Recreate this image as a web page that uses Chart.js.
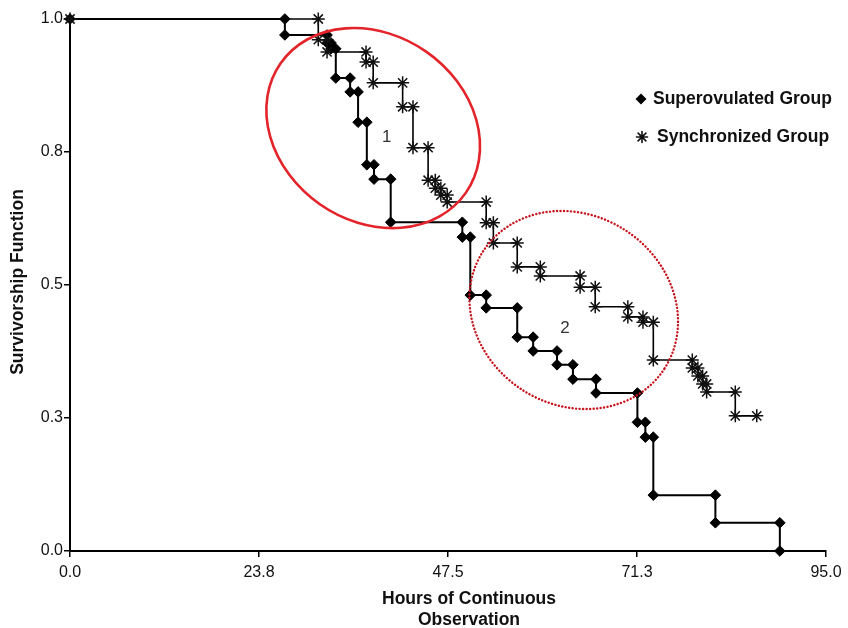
<!DOCTYPE html>
<html>
<head>
<meta charset="utf-8">
<title>Survivorship Function</title>
<script src="https://cdn.jsdelivr.net/npm/chart.js@4.4.1/dist/chart.umd.min.js"></script>
<style>
    html, body { margin: 0; padding: 0; background: #fff; }
    #wrap { width: 848px; height: 628px; position: relative; }
</style>
</head>
<body>
<div id="wrap"><canvas id="survChart" width="848" height="628"></canvas></div>
<script>
// Hours at which each group steps down, and the survival level after the step
const superTimes = [27.0, 32.3, 32.8, 33.4, 35.2, 36.2, 37.3, 38.2, 40.3, 49.3, 50.3,
    52.3, 56.2, 58.2, 61.2, 63.2, 66.1, 71.3, 72.3, 73.3, 81.1, 89.2];
const superSurv = [0.970, 0.955, 0.944, 0.889, 0.863, 0.806, 0.726, 0.699, 0.618, 0.590, 0.481,
    0.457, 0.402, 0.376, 0.350, 0.323, 0.297, 0.242, 0.214, 0.105, 0.053, 0.0];

const syncTimes = [31.2, 32.3, 37.2, 38.1, 41.8, 43.1, 45.0, 45.9, 46.6, 47.4, 52.3, 53.2,
    56.2, 59.1, 64.1, 66.0, 70.1, 72.0, 73.3, 78.2, 78.9, 79.5, 80.0, 83.6];
const syncSurv = [0.961, 0.938, 0.919, 0.880, 0.835, 0.758, 0.697, 0.682, 0.669, 0.656, 0.617, 0.579,
    0.534, 0.517, 0.496, 0.459, 0.440, 0.430, 0.359, 0.344, 0.329, 0.314, 0.299, 0.254];
const syncLastTime = 86.3; // last censored observation

const seriesNames = ["Superovulated Group", "Synchronized Group"];

// Axis ticks
const xTicks = [0, 23.75, 47.5, 71.25, 95];
const xTickLabels = ["0.0", "23.8", "47.5", "71.3", "95.0"];
const yTicks = [0, 0.25, 0.5, 0.75, 1];
const yTickLabels = ["0.0", "0.3", "0.5", "0.8", "1.0"];

const xTitle = ["Hours of Continuous", "Observation"];
const yTitle = "Survivorship Function";

// Highlighted regions (centre in data units) and their labels
const ringLabels = ["1", "2"];
const ringCenterX = [38.1, 63.3];
const ringCenterY = [0.795, 0.453];
const ringLabelX = [39.8, 62.2];
const ringLabelY = [0.778, 0.419];

const FONT = "'Liberation Sans', Arial, Helvetica, sans-serif";

// Turn step times/levels into the corner points of a Kaplan-Meier curve
function stepPoints(times, surv, lastTime) {
    const pts = [{ x: 0, y: 1 }];
    let prev = 1;
    times.forEach((t, i) => {
        pts.push({ x: t, y: prev });
        pts.push({ x: t, y: surv[i] });
        prev = surv[i];
    });
    if (lastTime !== undefined) pts.push({ x: lastTime, y: prev });
    return pts;
}

function drawDiamond(ctx, x, y, r) {
    ctx.beginPath();
    ctx.moveTo(x - r, y);
    ctx.lineTo(x, y - r);
    ctx.lineTo(x + r, y);
    ctx.lineTo(x, y + r);
    ctx.closePath();
    ctx.fill();
}

function drawStar(ctx, x, y, r) {
    ctx.beginPath();
    for (let k = 0; k < 4; k++) {
        const a = k * Math.PI / 4;
        ctx.moveTo(x - r * Math.cos(a), y - r * Math.sin(a));
        ctx.lineTo(x + r * Math.cos(a), y + r * Math.sin(a));
    }
    ctx.stroke();
}

// Rings, ring numbers, legend and axis titles
const overlayPlugin = {
    id: "overlay",
    afterDatasetsDraw(chart) {
        const { ctx } = chart;
        const x = chart.scales.x, y = chart.scales.y;
        ctx.save();

        const ringStyle = [
            { rx: 113, ry: 93, rot: 35, color: "#e3242b", width: 2.6, dash: [] },
            { rx: 108, ry: 95, rot: 33, color: "#c8141e", width: 2.4, dash: [0.1, 3.4] },
        ];
        ringLabels.forEach((lab, i) => {
            const s = ringStyle[i];
            ctx.beginPath();
            ctx.strokeStyle = s.color;
            ctx.lineWidth = s.width;
            ctx.lineCap = "round";
            ctx.setLineDash(s.dash);
            ctx.ellipse(x.getPixelForValue(ringCenterX[i]), y.getPixelForValue(ringCenterY[i]),
                s.rx, s.ry, s.rot * Math.PI / 180, 0, Math.PI * 2);
            ctx.stroke();
            ctx.setLineDash([]);

            ctx.fillStyle = "#333";
            ctx.font = "17px " + FONT;
            ctx.textAlign = "center";
            ctx.textBaseline = "middle";
            ctx.fillText(lab, x.getPixelForValue(ringLabelX[i]), y.getPixelForValue(ringLabelY[i]));
        });

        // Legend
        ctx.fillStyle = "#000";
        ctx.strokeStyle = "#111";
        ctx.lineWidth = 1.6;
        drawDiamond(ctx, 641, 99, 5.5);
        drawStar(ctx, 642, 137, 5.5);
        ctx.font = "bold 17.5px " + FONT;
        ctx.textAlign = "left";
        ctx.textBaseline = "middle";
        ctx.fillStyle = "#111";
        ctx.fillText(seriesNames[0], 653, 99);
        ctx.fillText(seriesNames[1], 657, 137);

        // Axis titles
        ctx.textAlign = "center";
        ctx.fillText(xTitle[0], 469, 599);
        ctx.fillText(xTitle[1], 469, 620);
        ctx.save();
        ctx.translate(18, 282);
        ctx.rotate(-Math.PI / 2);
        ctx.fillText(yTitle, 0, 0);
        ctx.restore();

        ctx.restore();
    }
};

document.addEventListener("DOMContentLoaded", function () {
    const ctx = document.getElementById("survChart").getContext("2d");

    new Chart(ctx, {
        type: "scatter",
        data: {
            datasets: [
                {
                    label: seriesNames[1],
                    data: stepPoints(syncTimes, syncSurv, syncLastTime),
                    showLine: true,
                    clip: false,
                    borderColor: "#000",
                    borderWidth: 1.6,
                    pointStyle: "star",
                    pointRadius: 6.5,
                    pointBorderWidth: 1.5,
                    pointBorderColor: "#111",
                    pointBackgroundColor: "#111",
                    order: 1,
                },
                {
                    label: seriesNames[0],
                    data: stepPoints(superTimes, superSurv),
                    showLine: true,
                    clip: false,
                    borderColor: "#000",
                    borderWidth: 2,
                    pointStyle: "rectRot",
                    pointRadius: 5.3,
                    pointBorderWidth: 1,
                    pointBorderColor: "#000",
                    pointBackgroundColor: "#000",
                    order: 2,
                },
            ]
        },
        options: {
            responsive: false,
            animation: false,
            events: [],
            layout: { padding: { left: 0, top: 19, right: 22, bottom: 0 } },
            plugins: {
                legend: { display: false },
                tooltip: { enabled: false },
            },
            scales: {
                x: {
                    type: "linear",
                    min: 0,
                    max: 95,
                    afterBuildTicks: s => { s.ticks = xTicks.map(v => ({ value: v })); },
                    afterFit: s => { s.height = 77; },
                    border: { display: true, color: "#000", width: 2 },
                    grid: { drawOnChartArea: false, drawTicks: true, tickLength: 6, color: "#000", lineWidth: 1.5 },
                    ticks: {
                        autoSkip: false,
                        maxRotation: 0,
                        padding: 6,
                        color: "#111",
                        font: { family: FONT, size: 16 },
                        callback: (v, i) => xTickLabels[i],
                    },
                },
                y: {
                    type: "linear",
                    min: 0,
                    max: 1,
                    afterBuildTicks: s => { s.ticks = yTicks.map(v => ({ value: v })); },
                    afterFit: s => { s.width = 70; },
                    border: { display: true, color: "#000", width: 2 },
                    grid: { drawOnChartArea: false, drawTicks: true, tickLength: 6, color: "#000", lineWidth: 1.5 },
                    ticks: {
                        autoSkip: false,
                        padding: 1,
                        color: "#111",
                        font: { family: FONT, size: 16 },
                        callback: (v, i) => yTickLabels[i],
                    },
                },
            },
        },
        plugins: [overlayPlugin],
    });
});
</script>
</body>
</html>
